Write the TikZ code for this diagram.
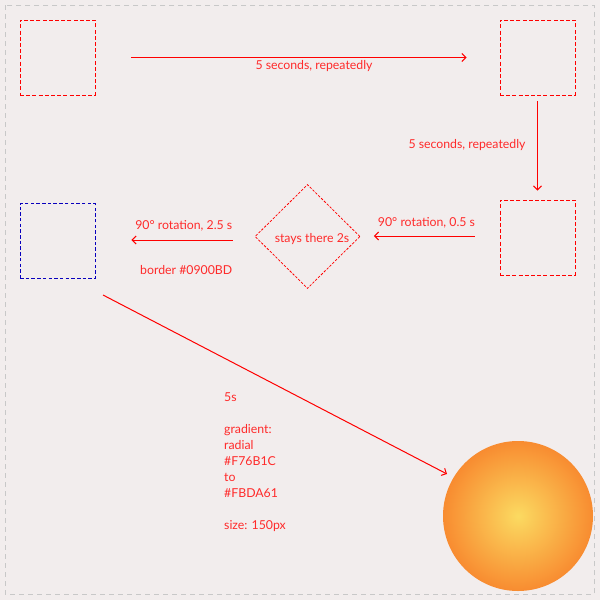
\documentclass[tikz,border=0pt]{standalone}
\usepackage{fontspec}
\setmainfont{Lato}
\usetikzlibrary{arrows.meta,shapes.geometric,calc}
\definecolor{bg}{HTML}{F2EDED}
\definecolor{frame}{HTML}{C8C8C8}
\definecolor{lbl}{HTML}{FF2A2A}
\definecolor{bluebd}{HTML}{0900BD}
\definecolor{sunin}{HTML}{FBDA61}
\definecolor{sunout}{HTML}{F76B1C}
\pgfdeclareradialshading{sunshade}{\pgfpoint{0bp}{0bp}}{color(0bp)=(sunin); color(35.36bp)=(sunout); color(50bp)=(sunout)}
\begin{document}
\begin{tikzpicture}[x=1pt,y=-1pt,
  box/.style={draw=red,line width=0.95pt,dash pattern=on 4pt off 2.2pt,minimum width=75pt,minimum height=75pt,inner sep=0pt},
  conn/.style={draw=red,line width=1pt,-{Straight Barb[length=4pt,width=8pt]}},
  lab/.style={text=lbl,font=\fontsize{12.3}{16}\selectfont,inner sep=0pt}]
\fill[bg] (0,0) rectangle (600,600);
\useasboundingbox (0,0) rectangle (600,600);
\draw[frame,line width=0.9pt,dash pattern=on 5pt off 4pt] (5.3,5.3) rectangle (594.3,594.3);
\node[box] (b1) at (57.5,57.5) {};
\node[box] (b2) at (537.5,57.5) {};
\node[box] (b3) at (537.5,237.5) {};
\node[box,draw=bluebd,dash pattern=on 3.5pt off 2.2pt] (b4) at (57.5,241) {};
\node[draw=red,line width=0.75pt,dash pattern=on 2.5pt off 1.5pt,minimum width=105pt,minimum height=104pt,inner sep=0pt,shape=diamond,aspect=1] (dia) at (307.5,236.5) {};
\node[lab] (dtext) at (312,239) {stays there 2s};
\node[circle,minimum size=150pt,inner sep=0pt,shading=sunshade] (sun) at (518,516) {};
% arrows
\draw[conn,shorten <=36pt,shorten >=33pt] (b1.east) -- (b2.west);
\node[lab] (l1) at (314,66) {5 seconds, repeatedly};
\draw[conn,shorten <=6pt,shorten >=9pt] (b2.south) -- (b3.north);
\node[lab] (l2) at (467,145) {5 seconds, repeatedly};
\draw[conn,shorten <=25pt,shorten >=13.5pt] ([yshift=1.5pt]b3.west) -- ([yshift=1.5pt]dia.east |- b3.west);
\node[lab] (l3) at (426.5,223) {90° rotation, 0.5 s};
\draw[conn,shorten <=22pt,shorten >=36pt] ([yshift=1pt]dia.west |- b4.east) -- ([yshift=1pt]b4.east);
\node[lab,anchor=east] (l4) at (232.5,225.5) {90° rotation, 2.5 s};
\node[lab,anchor=east] (l5) at (232.5,270) {border \#0900BD};
\coordinate (d1) at (103,295);
\coordinate (d2) at (447,474);
\draw[conn] (d1) -- (d2);
\node[lab,anchor=north west,align=left] (l6) at (224,392) {5s\\[16pt]gradient:\\radial\\\#F76B1C\\to\\\#FBDA61\\[16pt]size: 150px};
\end{tikzpicture}
\end{document}
